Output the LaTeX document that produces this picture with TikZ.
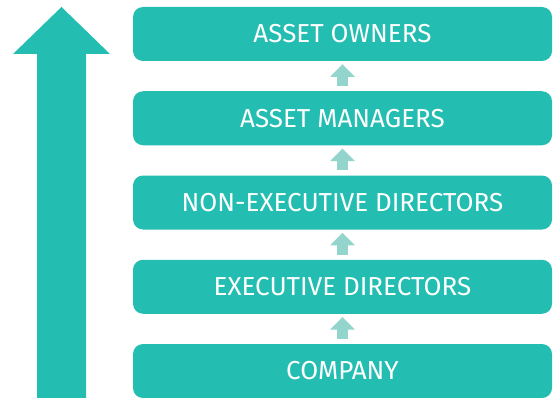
\documentclass[tikz,border=0pt]{standalone}
\usepackage{fontspec}
\setmainfont{Fira Sans}
\usetikzlibrary{arrows.meta}
\definecolor{teal1}{RGB}{35,189,178}
\definecolor{teal2}{RGB}{147,213,205}
\tikzset{
  levelbox/.style={fill=teal1, rounded corners=10pt, minimum width=419pt, minimum height=54pt,
    inner sep=0pt, text=white, font=\fontsize{26}{26}\selectfont},
  uparrow/.style={draw=teal2, line width=10.3pt, shorten <=5pt, shorten >=3pt,
    -{Triangle[width=24pt,length=12.7pt]}}
}
\begin{document}
\begin{tikzpicture}[x=1pt,y=1pt]
\useasboundingbox (0,0) rectangle (553,397);
% big arrow
\fill[teal1] (37,-2) -- (37,343) -- (13,343) -- (61.5,390) -- (110,343) -- (86,343) -- (86,-2) -- cycle;
\node[levelbox] (owners) at (342.5,363) {ASSET OWNERS};
\node[levelbox] (managers) at (342.5,278.75) {ASSET MANAGERS};
\node[levelbox] (nonexec) at (342.5,194.5) {NON-EXECUTIVE DIRECTORS};
\node[levelbox] (exec) at (342.5,110.25) {EXECUTIVE DIRECTORS};
\node[levelbox] (company) at (342.5,26) {COMPANY};
\draw[uparrow] (managers.north) -- (owners.south);
\draw[uparrow] (nonexec.north) -- (managers.south);
\draw[uparrow] (exec.north) -- (nonexec.south);
\draw[uparrow] (company.north) -- (exec.south);
\end{tikzpicture}
\end{document}
